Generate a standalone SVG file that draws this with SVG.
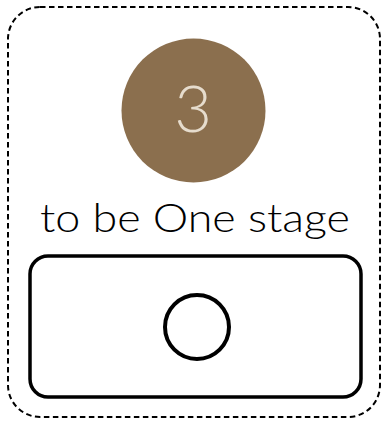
<svg xmlns="http://www.w3.org/2000/svg" width="383" height="427" viewBox="0 0 383 427">
<style>
.frame{fill:none;stroke:#000;stroke-width:2;stroke-dasharray:5.5 3.5}
.box{fill:#fff;stroke:#000;stroke-width:3.5}
.lbl{font-family:Lato,"Open Sans",sans-serif;font-weight:300}
</style>
<g id="frame"><rect class="frame" x="8" y="7" width="372" height="410" rx="32"/></g>
<g id="badge">
<circle cx="193.5" cy="110.5" r="72" fill="#8b6f4e"/>
<text class="lbl" x="193" y="132" font-size="65" fill="#e6dccd" text-anchor="middle">3</text>
</g>
<g id="title"><text class="lbl" x="195" y="232" font-size="40" fill="#000" text-anchor="middle" textLength="310" lengthAdjust="spacingAndGlyphs">to be One stage</text></g>
<g id="stage">
<rect class="box" x="30" y="256" width="331" height="141" rx="18"/>
<circle cx="197" cy="327" r="32" fill="none" stroke="#000" stroke-width="4"/>
</g>
<g id="connectors"/>
</svg>
